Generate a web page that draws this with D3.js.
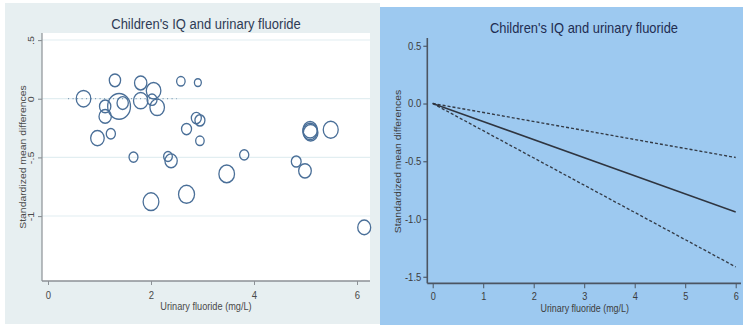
<!DOCTYPE html>
<html>
<head>
<meta charset="utf-8">
<script src="https://cdn.jsdelivr.net/npm/d3@7"></script>
<style>
  html, body { margin: 0; padding: 0; background: #ffffff; }
  svg { display: block; font-family: "Liberation Sans", Arial, sans-serif; }
</style>
</head>
<body>
<svg id="chart" width="743" height="325"></svg>
<script>
// Study-level data: urinary fluoride (mg/L), standardized mean difference, study weight
const fluoride = [0.69, 1.30, 1.11, 1.11, 1.38, 1.45, 0.96, 1.22, 1.80, 1.80, 2.05, 2.02, 2.12,
  2.58, 2.91, 2.88, 2.95, 2.69, 2.95, 1.66, 2.33, 2.39, 3.81, 3.47, 5.09, 5.10, 5.09, 5.49,
  4.82, 4.99, 2.00, 2.69, 6.14];
const smd = [0.00, 0.156, -0.066, -0.151, -0.066, -0.037, -0.336, -0.299, 0.134, -0.017, 0.068,
  -0.009, -0.074, 0.148, 0.137, -0.165, -0.185, -0.259, -0.359, -0.498, -0.493, -0.530, -0.479,
  -0.641, -0.279, -0.290, -0.265, -0.265, -0.536, -0.615, -0.878, -0.815, -1.097];
const weight = [53, 32, 32, 38, 130, 32, 46, 21, 38, 52, 53, 25, 53, 18, 12, 25, 25, 25, 18,
  20, 19, 38, 21, 61, 53, 53, 53, 56, 24, 40, 62, 64, 42];

// Reference line at zero drawn over the low-exposure range
const refLineX = [0.39, 2.5];
const refLineY = [0, 0];

// Pooled dose-response curve with confidence limits
const doseX = [0, 6];
const doseEst = [0, -0.94];
const doseLower = [0, -1.415];
const doseUpper = [0, -0.468];

// Tick labels
const leftYTicks = [0.5, 0, -0.5, -1];
const leftYLabels = [".5", "0", "-.5", "-1"];
const leftXTicks = [0, 2, 4, 6];
const rightYTicks = [0.5, 0, -0.5, -1, -1.5];
const rightYLabels = ["0.5", "0.0", "-0.5", "-1.0", "-1.5"];
const rightXTicks = [0, 1, 2, 3, 4, 5, 6];

const titleText = "Children's IQ and urinary fluoride";
const xTitle = "Urinary fluoride (mg/L)";
const yTitle = "Standardized mean differences";

// Whole graphic is rendered with a slight vertical stretch
const S = 1.13;
const svg = d3.select("#chart");
const root = svg.append("g").attr("transform", `scale(1,${S})`);

/* ---------------- Left panel: bubble plot ---------------- */
const L = root.append("g");
L.append("rect").attr("x", 5).attr("y", 3 / S).attr("width", 375).attr("height", 321 / S)
  .attr("fill", "#e7eff1");
const plotTop = 33 / S, plotBottom = 281 / S, plotLeft = 42, plotRight = 370;
L.append("rect").attr("x", plotLeft).attr("y", plotTop)
  .attr("width", plotRight - plotLeft).attr("height", plotBottom - plotTop).attr("fill", "#ffffff");

const xL = d3.scaleLinear().domain([0, 6]).range([48, 357]);
const yL = d3.scaleLinear().domain([-1, 0.5]).range([216 / S, 40 / S]);
const rL = d3.scaleSqrt().domain([0, d3.max(weight)]).range([0, 11.4]);

// gridlines
L.append("g").selectAll("line").data(leftYTicks).join("line")
  .attr("x1", plotLeft).attr("x2", plotRight)
  .attr("y1", d => yL(d)).attr("y2", d => yL(d))
  .attr("stroke", "#e2eef1").attr("stroke-width", 1);

// dotted reference segment
L.append("path")
  .attr("d", d3.line()(refLineX.map((v, i) => [xL(v), yL(refLineY[i])])))
  .attr("stroke", "#7f9ab5").attr("stroke-width", 1).attr("stroke-dasharray", "1,3.5")
  .attr("fill", "none");

// bubbles
const pts = fluoride.map((f, i) => ({ x: f, y: smd[i], w: weight[i] }));
L.append("g").selectAll("circle").data(pts).join("circle")
  .attr("cx", d => xL(d.x)).attr("cy", d => yL(d.y)).attr("r", d => rL(d.w))
  .attr("fill", "none").attr("stroke", "#4a6f98").attr("stroke-width", 1.3);

// axes
const axL = L.append("g").attr("transform", `translate(${plotLeft},0)`)
  .call(d3.axisLeft(yL).tickValues(leftYTicks).tickSize(4).tickSizeOuter(0)
    .tickFormat((d, i) => leftYLabels[i]));
axL.select(".domain").remove();
axL.selectAll(".tick line").attr("stroke", "#8c9196");
axL.selectAll(".tick text")
  .attr("transform", "rotate(-90)").attr("x", 0).attr("y", -8.5).attr("dy", 0)
  .attr("text-anchor", "middle").attr("font-size", 9.5).attr("fill", "#4a4a4a")
  .attr("font-family", null);
L.append("line").attr("x1", plotLeft).attr("x2", plotLeft).attr("y1", plotTop).attr("y2", plotBottom)
  .attr("stroke", "#8c9196").attr("stroke-width", 1.2);

const axLx = L.append("g").attr("transform", `translate(0,${plotBottom})`)
  .call(d3.axisBottom(xL).tickValues(leftXTicks).tickSize(3.5).tickSizeOuter(0).tickFormat(d3.format("d")));
axLx.select(".domain").remove();
axLx.selectAll(".tick line").attr("stroke", "#8c9196");
axLx.selectAll(".tick text").attr("y", 16.2).attr("dy", 0).attr("font-size", 9.5)
  .attr("fill", "#4a4a4a").attr("font-family", null);
L.append("line").attr("x1", plotLeft).attr("x2", plotRight).attr("y1", plotBottom).attr("y2", plotBottom)
  .attr("stroke", "#8c9196").attr("stroke-width", 1.2);

// titles
L.append("text").attr("x", 206).attr("y", 29.3 / S).attr("text-anchor", "middle")
  .attr("font-size", 13).attr("fill", "#2e3b55").text(titleText);
L.append("text").attr("x", 206).attr("y", 310 / S).attr("text-anchor", "middle")
  .attr("font-size", 9.2).attr("fill", "#4a4a4a").text(xTitle);
L.append("text").attr("transform", `translate(26,${157 / S}) rotate(-90)`)
  .attr("text-anchor", "middle").attr("font-size", 9.2).attr("fill", "#4a4a4a").text(yTitle);

/* ---------------- Right panel: dose-response curve ---------------- */
const R = root.append("g");
R.append("rect").attr("x", 380).attr("y", 7 / S).attr("width", 363).attr("height", 318 / S)
  .attr("fill", "#9dc9f0");

const xR = d3.scaleLinear().domain([0, 6]).range([432.7, 735.7]);
const yR = d3.scaleLinear().domain([-1.5, 0.5]).range([276.7 / S, 45.7 / S]);
const axisX = 427.3, axisY = 283.3 / S;

const lineR = d3.line().x((d, i) => xR(doseX[i])).y(d => yR(d));
R.append("path").attr("d", lineR(doseUpper)).attr("fill", "none")
  .attr("stroke", "#333a45").attr("stroke-width", 1.2).attr("stroke-dasharray", "3,2");
R.append("path").attr("d", lineR(doseLower)).attr("fill", "none")
  .attr("stroke", "#333a45").attr("stroke-width", 1.2).attr("stroke-dasharray", "3,2");
R.append("path").attr("d", lineR(doseEst)).attr("fill", "none")
  .attr("stroke", "#2f3540").attr("stroke-width", 1.4);

const axR = R.append("g").attr("transform", `translate(${axisX},0)`)
  .call(d3.axisLeft(yR).tickValues(rightYTicks).tickSize(4).tickPadding(2).tickSizeOuter(0)
    .tickFormat((d, i) => rightYLabels[i]));
axR.select(".domain").remove();
axR.selectAll(".tick line").attr("stroke", "#4c5562");
axR.selectAll(".tick text").attr("font-size", 9.5).attr("fill", "#3c3c3c").attr("font-family", null);
R.append("line").attr("x1", axisX).attr("x2", axisX).attr("y1", 38 / S).attr("y2", axisY)
  .attr("stroke", "#4c5562").attr("stroke-width", 1.6);

const axRx = R.append("g").attr("transform", `translate(0,${axisY})`)
  .call(d3.axisBottom(xR).tickValues(rightXTicks).tickSize(4.4).tickSizeOuter(0).tickFormat(d3.format("d")));
axRx.select(".domain").remove();
axRx.selectAll(".tick line").attr("stroke", "#4c5562");
axRx.selectAll(".tick text").attr("y", 14.6).attr("dy", 0).attr("font-size", 9.2)
  .attr("fill", "#3c3c3c").attr("font-family", null);
R.append("line").attr("x1", axisX).attr("x2", 741).attr("y1", axisY).attr("y2", axisY)
  .attr("stroke", "#4c5562").attr("stroke-width", 1.6);

R.append("text").attr("x", 584).attr("y", 33.3 / S).attr("text-anchor", "middle")
  .attr("font-size", 12.9).attr("fill", "#1f2d52").text(titleText);
R.append("text").attr("x", 584.7).attr("y", 312.2 / S).attr("text-anchor", "middle")
  .attr("font-size", 8.9).attr("fill", "#3c3c3c").text(xTitle);
R.append("text").attr("transform", `translate(400.5,${161.5 / S}) rotate(-90)`)
  .attr("text-anchor", "middle").attr("font-size", 9.2).attr("fill", "#3c3c3c").text(yTitle);
</script>
</body>
</html>
